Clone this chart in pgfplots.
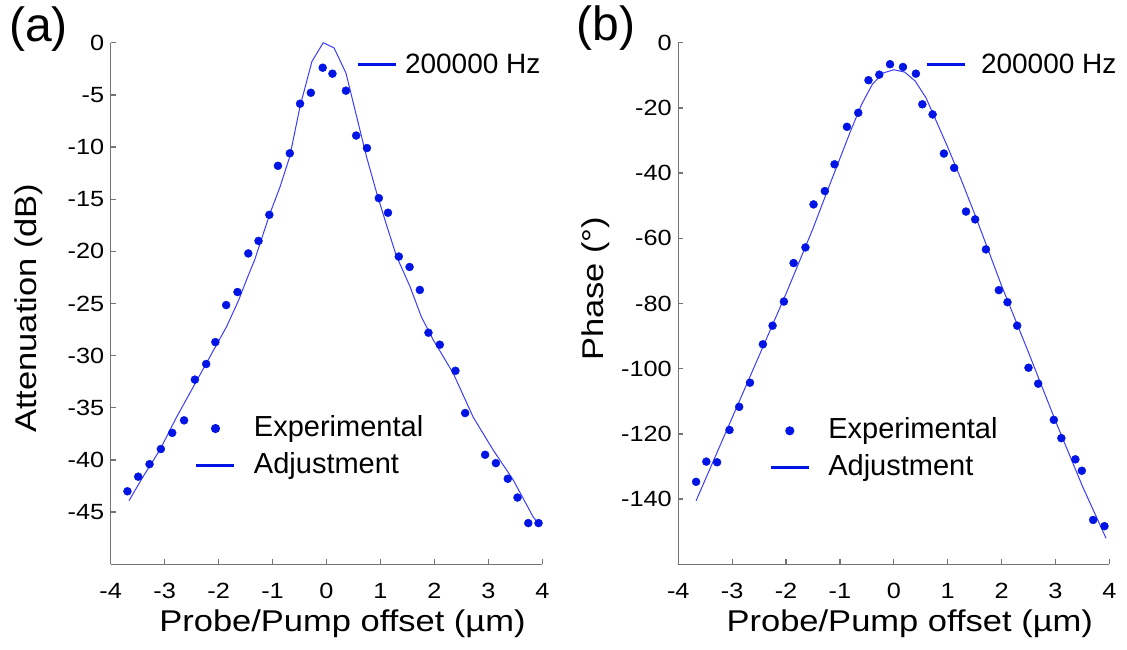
\documentclass[border=0pt]{standalone}
\usepackage{fontspec}
\setmainfont{Liberation Sans}
\newfontfamily\widefont{Liberation Sans}[FakeStretch=1.15]
\usepackage{pgfplots}
\pgfplotsset{compat=1.18}

\definecolor{dotblue}{RGB}{0,20,230}
\definecolor{fitblue}{RGB}{60,60,255}
\definecolor{axgray}{RGB}{115,115,115}

\pgfplotsset{
  panel/.style={
    scale only axis, height=521.6pt,
    anchor=south west,
    axis lines=left,
    axis line style={axgray, line width=1.3pt, -},
    tick align=inside, major tick length=5pt,
    tick style={axgray, line width=1.3pt},
    xmin=-4, xmax=4, xtick={-4,...,4}, ymax=0,
    clip=false,
    ticklabel style={font=\widefont\fontsize{22}{26}\selectfont},
    /pgf/number format/assume math mode=true,
    xticklabel style={anchor=base, yshift=-34pt},
    yticklabel style={xshift=-3pt},
    label style={font=\widefont\fontsize{30}{36}\selectfont},
    xlabel={Probe/Pump offset (µm)},
    xlabel style={at={(axis description cs:0.537,-0.129)}, anchor=base},
    legend cell align=left,
    legend style={draw=none, fill=none, inner sep=0pt, outer sep=0pt, anchor=north west,
      font=\fontsize{29}{35}\selectfont,
      nodes={inner sep=0pt, text height=21pt, text depth=6pt},
      row sep=10pt,
      /tikz/every odd column/.append style={column sep=18pt}},
  },
  toplegend/.style={
    legend style={font=\fontsize{28}{34}\selectfont,
      nodes={inner sep=0pt, text height=20pt, text depth=2pt},
      /tikz/every odd column/.append style={column sep=#1}}},
  dots/.style={only marks, mark=*, mark size=4pt, color=dotblue,
    legend image code/.code={\path[draw=none] (0pt,0pt) (38pt,0pt);
      \fill[dotblue, draw=none] (19pt,0pt) circle (4.6pt);}},
  fit/.style={fitblue, line width=1pt, no marks,
    legend image code/.code={\draw[dotblue, line width=3pt] (0pt,0pt) -- (38pt,0pt);}},
}

\begin{document}
\begin{tikzpicture}
\useasboundingbox (0,0) rectangle (1127pt,-650pt);

% ---- (a) attenuation ----
\begin{axis}[panel, at={(110.7pt,-564.3pt)}, width=431.6pt,
    ymin=-50, ytick={-45,-40,...,0},
    ylabel={Attenuation (dB)},
    ylabel style={at={(axis description cs:-0.189,0.491)}, anchor=center},
    legend style={at={(axis description cs:0.1953,0.2862)}}]
\addplot[dots] coordinates {
  (-3.69,-43.0) (-3.49,-41.6) (-3.28,-40.4) (-3.07,-38.95) (-2.86,-37.4)
  (-2.64,-36.2) (-2.44,-32.3) (-2.23,-30.8) (-2.06,-28.7) (-1.86,-25.15)
  (-1.65,-23.9) (-1.45,-20.2) (-1.26,-19.0) (-1.06,-16.5) (-0.90,-11.8)
  (-0.68,-10.6) (-0.49,-5.85) (-0.29,-4.8) (-0.07,-2.4) (0.11,-2.97)
  (0.36,-4.6) (0.55,-8.9) (0.75,-10.1) (0.97,-14.9) (1.14,-16.3)
  (1.34,-20.5) (1.54,-21.5) (1.73,-23.7) (1.89,-27.8) (2.10,-28.95)
  (2.39,-31.45) (2.57,-35.5) (2.94,-39.5) (3.14,-40.3) (3.36,-41.8)
  (3.54,-43.6) (3.74,-46.05) (3.93,-46.05)
};
\addlegendentry{Experimental}
\addplot[fit] coordinates {
  (-3.66,-43.9) (-3.40,-41.6) (-3.09,-39.05) (-2.78,-35.9) (-2.47,-33.0)
  (-2.16,-30.1) (-1.85,-27.2) (-1.63,-24.7) (-1.48,-22.7) (-1.33,-20.8)
  (-1.05,-16.4) (-0.86,-13.8) (-0.68,-10.9) (-0.49,-6.1) (-0.27,-1.8)
  (-0.06,0) (0.14,-0.5) (0.36,-2.9) (0.56,-7.1) (0.74,-10.9)
  (0.93,-14.4) (1.12,-17.6) (1.30,-20.5) (1.55,-23.4) (1.76,-26.3)
  (1.98,-28.5) (2.35,-31.7) (2.72,-35.9) (3.09,-39.05) (3.46,-41.9)
  (3.83,-45.45) (3.90,-45.9)
};
\addlegendentry{Adjustment}
\end{axis}
\begin{axis}[panel, toplegend=8pt, hide axis, at={(110.7pt,-564.3pt)}, width=431.6pt,
    ymin=-50, legend style={at={(axis description cs:0.5684,0.9797)}}]
\addlegendimage{fit}
\addlegendentry{200000 Hz}
\end{axis}

% ---- (b) phase ----
\begin{axis}[panel, at={(678.3pt,-564.3pt)}, width=431pt,
    ymin=-160, ytick={-140,-120,...,0},
    ylabel={Phase (°)},
    ylabel style={at={(axis description cs:-0.191,0.528)}, anchor=center},
    legend style={at={(axis description cs:0.2111,0.2818)}}]
\addplot[dots] coordinates {
  (-3.67,-134.7) (-3.48,-128.5) (-3.28,-128.7) (-3.05,-118.8) (-2.87,-111.7)
  (-2.67,-104.3) (-2.43,-92.5) (-2.25,-86.8) (-2.04,-79.4) (-1.86,-67.6)
  (-1.64,-62.8) (-1.49,-49.6) (-1.28,-45.5) (-1.10,-37.3) (-0.87,-25.8)
  (-0.66,-21.5) (-0.47,-11.5) (-0.27,-9.8) (-0.07,-6.6) (0.17,-7.45)
  (0.41,-9.5) (0.53,-18.9) (0.72,-22.0) (0.93,-34.0) (1.12,-38.4)
  (1.34,-51.8) (1.51,-54.2) (1.71,-63.4) (1.95,-75.9) (2.11,-79.6)
  (2.29,-86.8) (2.50,-99.7) (2.68,-104.6) (2.97,-115.7) (3.11,-121.3)
  (3.37,-127.8) (3.49,-131.3) (3.70,-146.4) (3.91,-148.3)
};
\addlegendentry{Experimental}
\addplot[fit] coordinates {
  (-3.67,-140.5) (-3.0,-115) (-2.5,-96) (-2.0,-77) (-1.5,-57)
  (-1.2,-44) (-1.0,-35.5) (-0.8,-27) (-0.6,-19) (-0.4,-12.8)
  (-0.2,-9.3) (0,-8.3) (0.2,-9.0) (0.4,-11.8) (0.6,-17)
  (0.8,-24.5) (1.0,-32) (1.25,-42) (1.5,-52.5) (1.75,-63.5)
  (2.0,-74.5) (2.5,-95) (3.0,-116) (3.5,-136) (3.94,-152)
};
\addlegendentry{Adjustment}
\end{axis}
\begin{axis}[panel, toplegend=15pt, hide axis, at={(678.3pt,-564.3pt)}, width=431pt,
    ymin=-160, legend style={at={(axis description cs:0.5724,0.9797)}}]
\addlegendimage{fit}
\addlegendentry{200000 Hz}
\end{axis}

\node[font=\fontsize{48}{55}\selectfont] at (38.5pt,-29pt) {(a)};
\node[font=\fontsize{48}{55}\selectfont] at (606pt,-28.5pt) {(b)};
\end{tikzpicture}
\end{document}
